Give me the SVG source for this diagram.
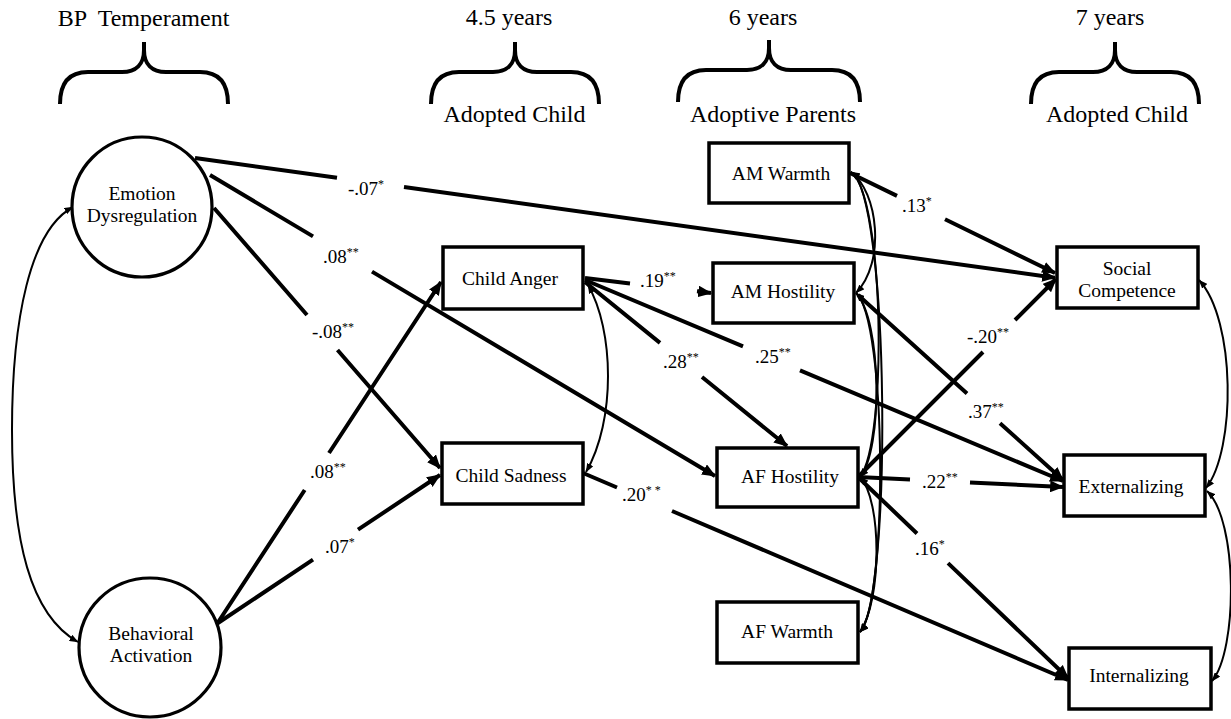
<svg xmlns="http://www.w3.org/2000/svg" width="1231" height="719" viewBox="0 0 1231 719" font-family="Liberation Serif, Times New Roman, DejaVu Serif, serif">
<defs>
<style>
text{font-family:'Liberation Serif','Times New Roman','DejaVu Serif',serif}
.hd{font-size:24px;fill:#000;text-anchor:middle}
.nt{font-size:19.5px;fill:#000;text-anchor:middle}
.lb{font-size:19px;fill:#000}
.sup{font-size:12px}
.brace{fill:none;stroke:#000;stroke-width:4;stroke-linecap:butt}
.box{fill:#fff;stroke:#000;stroke-width:3.5}
.circ{fill:#fff;stroke:#000;stroke-width:3.2}
.con{fill:none;stroke:#000;stroke-width:4}
.cov{fill:none;stroke:#000;stroke-width:2}
</style>
<marker id="ah" viewBox="0 0 12 10" markerUnits="userSpaceOnUse" markerWidth="14" markerHeight="12" refX="11" refY="5" orient="auto">
<path d="M0,0 L12,5 L0,10 z" fill="#000"/>
</marker>
<marker id="sa" viewBox="0 0 9 7" markerUnits="userSpaceOnUse" markerWidth="9" markerHeight="7" refX="8.5" refY="3.5" orient="auto-start-reverse">
<path d="M0,0 L9,3.5 L0,7 z" fill="#000"/>
</marker>
</defs>
<rect width="1231" height="719" fill="#fff"/>

<g id="headers">
<text class="hd" x="143.5" y="26" xml:space="preserve">BP  Temperament</text>
<text class="hd" x="509" y="25">4.5 years</text>
<text class="hd" x="763" y="25">6 years</text>
<text class="hd" x="1110" y="25">7 years</text>
<text class="hd" x="514.5" y="122">Adopted Child</text>
<text class="hd" x="773" y="122">Adoptive Parents</text>
<text class="hd" x="1117" y="122">Adopted Child</text>
<path class="brace" d="M60,104 C60,84 68,72 88,72 L122,72 C136,72 144,64 144,50 L144,42 M144,50 C144,64 152,72 166,72 L200,72 C220,72 228,84 228,104"/>
<path class="brace" d="M431,104 C431,84 439,72 459,72 L493,72 C507,72 515,64 515,50 L515,42 M515,50 C515,64 523,72 537,72 L571,72 C591,72 599,84 599,104"/>
<path class="brace" d="M678,102 C678,82 686,70 706,70 L747,70 C761,70 769,62 769,48 L769,40 M769,48 C769,62 777,70 791,70 L832,70 C852,70 860,82 860,102"/>
<path class="brace" d="M1031,104 C1031,84 1039,72 1059,72 L1093,72 C1107,72 1115,64 1115,50 L1115,42 M1115,50 C1115,64 1123,72 1137,72 L1171,72 C1191,72 1199,84 1199,104"/>
</g>

<g id="connectors">
<path class="con" marker-end="url(#ah)" d="M195,158 L337,177.8 M404,187.1 L1055,277.7"/>
<path class="con" marker-end="url(#ah)" d="M210,175 L313,236.4 M372,271.6 L715,476"/>
<path class="con" marker-end="url(#ah)" d="M214,208 L307,315 M337.5,350 L440,468"/>
<path class="con" marker-end="url(#ah)" d="M213,630 L304.7,490 M329,453 L441,282"/>
<path class="con" marker-end="url(#ah)" d="M215,625 L313,559.7 M358,529.7 L440,475"/>
<path class="con" marker-end="url(#ah)" d="M585,278 L630,283.4 M697,291.3 L711,293"/>
<path class="con" marker-end="url(#ah)" d="M585,282 L660,342.9 M702,377 L787,446"/>
<path class="con" marker-end="url(#ah)" d="M585,280 L743,346.4 M800,370.4 L1063,481"/>
<path class="con" marker-end="url(#ah)" d="M850,173 L897,195.9 M945,219.3 L1055,273"/>
<path class="con" marker-end="url(#ah)" d="M858,295 L967,393.4 M1000,423.2 L1063,480"/>
<path class="con" marker-end="url(#ah)" d="M858,477 L983,352 M1015,320 L1056,279"/>
<path class="con" marker-end="url(#ah)" d="M858,477 L910,479.5 M970,482.5 L1063,487"/>
<path class="con" marker-end="url(#ah)" d="M858,477 L917,533.5 M948,563.1 L1068,678"/>
<path class="con" marker-end="url(#ah)" d="M583,473 L617,487.5 M672,511 L1068,680"/>

<path class="cov" marker-start="url(#sa)" marker-end="url(#sa)" d="M73,207 C30,230 12,320 12,430 C12,540 30,615 78,642"/>
<path class="cov" marker-start="url(#sa)" marker-end="url(#sa)" d="M588,285 C614,330 616,420 586,472"/>
<path class="cov" marker-start="url(#sa)" marker-end="url(#sa)" d="M1199,280 C1236,320 1236,450 1206,488"/>
<path class="cov" marker-start="url(#sa)" marker-end="url(#sa)" d="M1207,491 C1238,520 1238,650 1212,681"/>

<path class="cov" marker-start="url(#sa)" marker-end="url(#sa)" d="M851,172 C878,192 886,262 856,293"/>
<path class="cov" marker-start="url(#sa)" marker-end="url(#sa)" d="M851,172 C884,195 888,440 860,477"/>
<path class="cov" marker-start="url(#sa)" marker-end="url(#sa)" d="M851,172 C890,195 892,600 860,632"/>
<path class="cov" marker-start="url(#sa)" marker-end="url(#sa)" d="M856,293 C882,320 883,450 860,477"/>
<path class="cov" marker-start="url(#sa)" marker-end="url(#sa)" d="M856,293 C887,320 888,600 860,632"/>
<path class="cov" marker-start="url(#sa)" marker-end="url(#sa)" d="M860,477 C882,500 882,600 860,632"/>

<g id="labels">
<text class="lb" x="348" y="195">-.07<tspan class="sup" dy="-7">*</tspan></text>
<text class="lb" x="323" y="263">.08<tspan class="sup" dy="-7">**</tspan></text>
<text class="lb" x="312" y="338">-.08<tspan class="sup" dy="-7">**</tspan></text>
<text class="lb" x="310" y="478">.08<tspan class="sup" dy="-7">**</tspan></text>
<text class="lb" x="325" y="553">.07<tspan class="sup" dy="-7">*</tspan></text>
<text class="lb" x="640" y="287">.19<tspan class="sup" dy="-7">**</tspan></text>
<text class="lb" x="663" y="368">.28<tspan class="sup" dy="-7">**</tspan></text>
<text class="lb" x="755" y="363">.25<tspan class="sup" dy="-7">**</tspan></text>
<text class="lb" x="902" y="212">.13<tspan class="sup" dy="-7">*</tspan></text>
<text class="lb" x="967" y="343">-.20<tspan class="sup" dy="-7">**</tspan></text>
<text class="lb" x="968" y="418">.37<tspan class="sup" dy="-7">**</tspan></text>
<text class="lb" x="922" y="488">.22<tspan class="sup" dy="-7">**</tspan></text>
<text class="lb" x="915" y="555">.16<tspan class="sup" dy="-7">*</tspan></text>
<text class="lb" x="622" y="501" xml:space="preserve">.20<tspan class="sup" dy="-7">* *</tspan></text>
</g>
</g>

<g id="emotion-dysregulation">
<ellipse class="circ" cx="142" cy="207" rx="70" ry="70"/>
<text class="nt" x="142" y="200">Emotion</text>
<text class="nt" x="142" y="222">Dysregulation</text>
</g>
<g id="behavioral-activation">
<ellipse class="circ" cx="150" cy="647.5" rx="71" ry="69.5"/>
<text class="nt" x="151" y="640">Behavioral</text>
<text class="nt" x="151" y="662">Activation</text>
</g>
<g id="child-anger">
<rect class="box" x="443" y="247" width="140" height="62"/>
<text class="nt" x="510" y="285">Child Anger</text>
</g>
<g id="child-sadness">
<rect class="box" x="442" y="443" width="141" height="61"/>
<text class="nt" x="511" y="482">Child Sadness</text>
</g>
<g id="am-warmth">
<rect class="box" x="709" y="143" width="140" height="60"/>
<text class="nt" x="781" y="180">AM Warmth</text>
</g>
<g id="am-hostility">
<rect class="box" x="713" y="263" width="141" height="60"/>
<text class="nt" x="783" y="298">AM Hostility</text>
</g>
<g id="af-hostility">
<rect class="box" x="717" y="448" width="141" height="59"/>
<text class="nt" x="790" y="483">AF Hostility</text>
</g>
<g id="af-warmth">
<rect class="box" x="717" y="602" width="141" height="61"/>
<text class="nt" x="787" y="638">AF Warmth</text>
</g>
<g id="social-competence">
<rect class="box" x="1057" y="247" width="141" height="61"/>
<text class="nt" x="1127" y="275">Social</text>
<text class="nt" x="1127" y="297">Competence</text>
</g>
<g id="externalizing">
<rect class="box" x="1064" y="455" width="141" height="61"/>
<text class="nt" x="1131" y="493">Externalizing</text>
</g>
<g id="internalizing">
<rect class="box" x="1069" y="648" width="142" height="61"/>
<text class="nt" x="1139" y="682">Internalizing</text>
</g>
</svg>
